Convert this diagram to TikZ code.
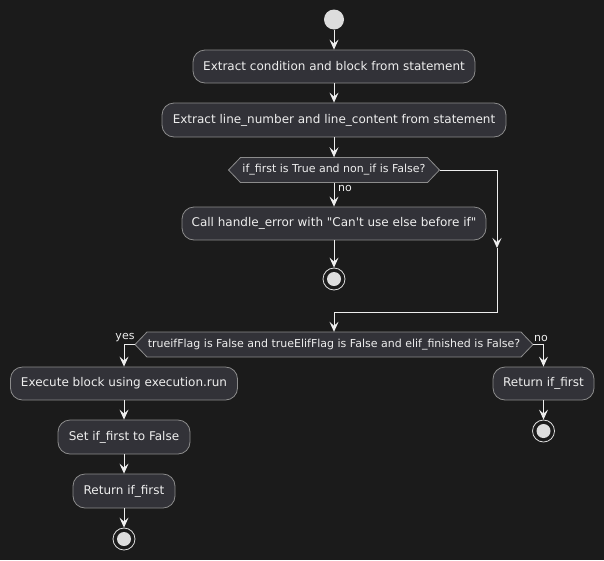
\documentclass[tikz,border=0pt]{standalone}
\usepackage{fontspec}
\setmainfont{DejaVu Sans}[Ligatures=TeXOff]
\usetikzlibrary{arrows.meta,calc}
\definecolor{bg}{RGB}{27,27,27}
\definecolor{boxfill}{RGB}{50,50,56}
\definecolor{boxline}{RGB}{140,140,140}
\definecolor{fg}{RGB}{238,238,238}
\definecolor{dot}{RGB}{221,221,221}
\begin{document}
\begin{tikzpicture}[x=1pt,y=-1pt,
 act/.style={draw=boxline, fill=boxfill, line width=0.8pt, rounded corners=12pt, text=fg,
   font=\fontsize{12}{14}\selectfont, minimum height=33pt, inner xsep=4pt, inner ysep=0pt},
 cond/.style={text=fg, font=\fontsize{11}{13}\selectfont, minimum height=25pt, inner sep=0pt},
 hexa/.style={draw=boxline, fill=boxfill, line width=0.8pt},
 lbl/.style={text=fg, font=\fontsize{11}{13}\selectfont, inner sep=0pt},
 flow/.style={draw=fg, line width=1pt, -{Stealth[length=10pt,width=9pt,inset=4pt]}},
 plain/.style={draw=fg, line width=1pt},
 startdot/.style={circle, fill=dot, minimum size=20pt, inner sep=0pt},
 enddot/.style={circle, draw=dot, fill=bg, line width=0.8pt, minimum size=22pt, inner sep=0pt,
   path picture={\fill[dot] (path picture bounding box.center) circle (7pt);}}
]
\fill[bg] (0,0) rectangle (604,560);
\useasboundingbox (0,0) rectangle (604,560);

% decision shapes first
\coordinate (d1c) at (334,170);
\draw[hexa] ($(d1c)+(-93.5,-12.5)$) -- ($(d1c)+(93.5,-12.5)$) -- ($(d1c)+(105.5,0)$)
  -- ($(d1c)+(93.5,12.5)$) -- ($(d1c)+(-93.5,12.5)$) -- ($(d1c)+(-105.5,0)$) -- cycle;
\coordinate (d2c) at (334,344.5);
\draw[hexa] ($(d2c)+(-187,-12.5)$) -- ($(d2c)+(187,-12.5)$) -- ($(d2c)+(199,0)$)
  -- ($(d2c)+(187,12.5)$) -- ($(d2c)+(-187,12.5)$) -- ($(d2c)+(-199,0)$) -- cycle;

\node[startdot] (start) at (334,19.5) {};
\node[act, minimum width=282pt] (b1) at (334,66.5) {Extract condition and block from statement};
\node[act, minimum width=344pt, minimum height=34pt] (b2) at (334,120) {Extract line\_number and line\_content from statement};
\node[cond, minimum width=187pt] (d1) at (d1c) {if\_first is True and non\_if is False?};
\coordinate (d1e) at ($(d1c)+(105.5,0)$);
\node[lbl, anchor=west] (no1) at (338,188) {no};
\node[act, minimum width=304pt] (b3) at (334,223.5) {Call handle\_error with "Can't use else before if"};
\node[enddot] (end1) at (334,279) {};

\coordinate (r1) at (497,170);
\coordinate (rmid) at (497,248);
\coordinate (r2) at (497,312);
\coordinate (m1) at (334,312);

\node[cond, minimum width=374pt] (d2) at (d2c) {trueifFlag is False and trueElifFlag is False and elif\_finished is False?};
\coordinate (d2w) at ($(d2c)+(-199,0)$);
\coordinate (d2e) at ($(d2c)+(199,0)$);
\coordinate (lturn) at (124,344.5);
\coordinate (rturn) at (543.5,344.5);
\node[lbl] (yes) at (125,338) {yes};
\node[lbl] (no2) at (541,338) {no};

\node[act, minimum width=227pt] (b4) at (124,383.5) {Execute block using execution.run};
\node[act, minimum width=132pt, minimum height=34pt] (b5) at (124,437) {Set if\_first to False};
\node[act, minimum width=102pt, minimum height=34pt] (b6) at (124,491) {Return if\_first};
\node[enddot] (end2) at (124,539) {};

\node[act, minimum width=101pt] (b7) at (543.5,383.5) {Return if\_first};
\node[enddot] (end3) at (543.5,431) {};

% connectors
\draw[flow] (start) -- (b1);
\draw[flow] (b1) -- (b2);
\draw[flow] (b2) -- (d1.north);
\draw[flow] (d1.south) -- (b3);
\draw[flow] (b3) -- (end1);
\draw[flow] (d1e) -- (r1) -- (rmid);
\draw[plain] (rmid) -- (r2) -- (m1);
\draw[flow] (m1) -- (d2.north);
\draw[flow] (d2w) -- (lturn) -- (b4.north);
\draw[flow] (d2e) -- (rturn) -- (b7.north);
\draw[flow] (b4) -- (b5);
\draw[flow] (b5) -- (b6);
\draw[flow] (b6) -- (end2);
\draw[flow] (b7) -- (end3);
\end{tikzpicture}
\end{document}
